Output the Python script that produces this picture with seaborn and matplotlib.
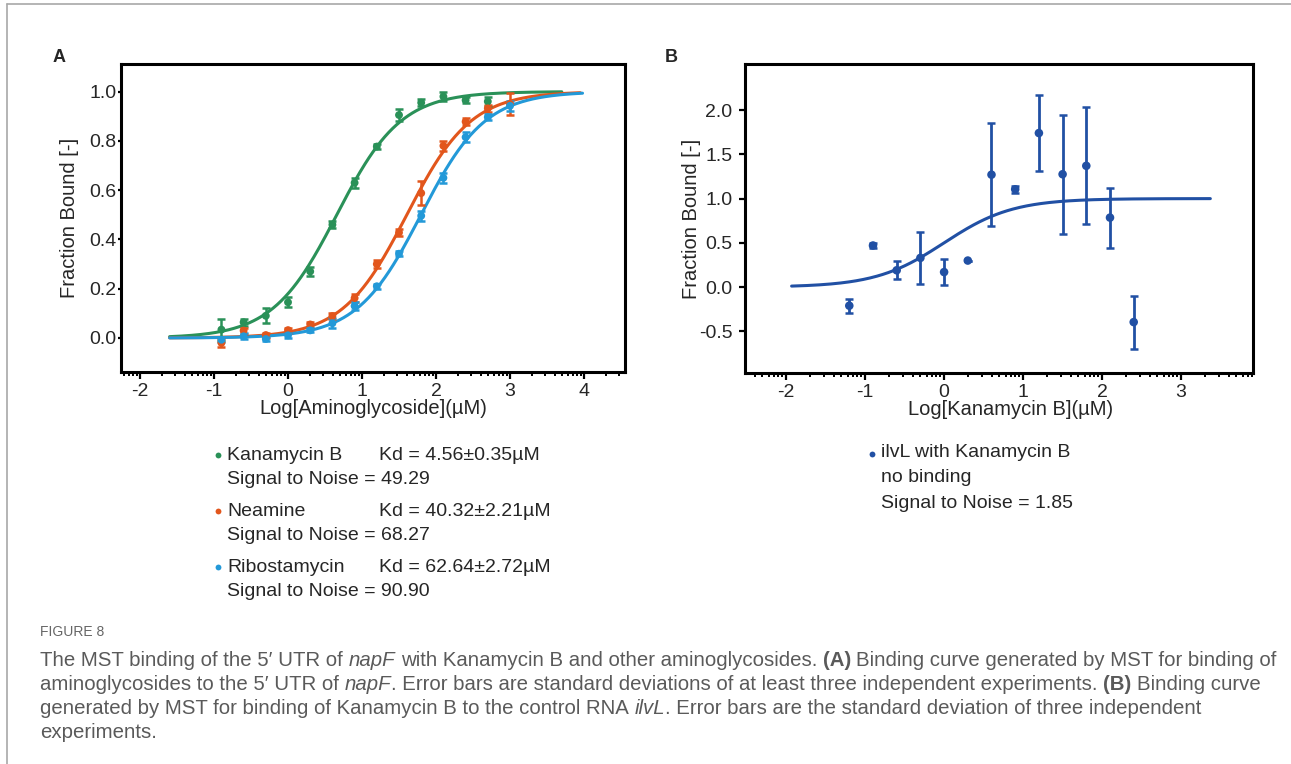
import numpy as np
import pandas as pd
import matplotlib
matplotlib.use("Agg")
import matplotlib.pyplot as plt
import seaborn as sns
from matplotlib.lines import Line2D
from matplotlib.ticker import FixedLocator

# ---- panel A: napF 5' UTR with aminoglycosides ----
log_conc_a = [-0.9, -0.6, -0.3, 0.0, 0.3, 0.6, 0.9, 1.2, 1.5, 1.8, 2.1, 2.4, 2.7, 3.0]
kan_y = [0.034, 0.064, 0.09, 0.145, 0.27, 0.46, 0.63, 0.777, 0.905, 0.955, 0.98, 0.965, 0.96]
kan_err = [0.045, 0.015, 0.03, 0.02, 0.02, 0.015, 0.02, 0.01, 0.025, 0.015, 0.02, 0.012, 0.02]
nea_y = [-0.02, 0.03, 0.012, 0.032, 0.055, 0.089, 0.162, 0.30, 0.428, 0.588, 0.78, 0.878, 0.932, 0.95]
nea_err = [0.015, 0.012, 0.01, 0.01, 0.01, 0.012, 0.015, 0.015, 0.015, 0.05, 0.02, 0.015, 0.015, 0.045]
rib_y = [-0.007, 0.007, -0.004, 0.011, 0.031, 0.06, 0.13, 0.21, 0.342, 0.496, 0.65, 0.815, 0.896, 0.942]
rib_err = [0.01, 0.012, 0.01, 0.01, 0.008, 0.02, 0.015, 0.01, 0.01, 0.02, 0.02, 0.02, 0.012, 0.02]

compounds = ["Kanamycin B", "Neamine", "Ribostamycin"]
kd_a = [4.56, 40.32, 62.64]           # µM, from the legend
kd_text = ["Kd = 4.56±0.35µM", "Kd = 40.32±2.21µM", "Kd = 62.64±2.72µM"]
snr_text = ["Signal to Noise = 49.29", "Signal to Noise = 68.27", "Signal to Noise = 90.90"]
fit_start_a = -1.6
fit_end_a = [3.70, 3.95, 3.98]
colors_a = ["#2a9158", "#e2561c", "#2399d8"]

# ---- panel B: control RNA ilvL ----
log_conc_b = [-1.2, -0.9, -0.6, -0.3, 0.0, 0.3, 0.6, 0.9, 1.2, 1.5, 1.8, 2.1, 2.4]
ilvl_y = [-0.21, 0.47, 0.19, 0.33, 0.17, 0.30, 1.27, 1.105, 1.74, 1.275, 1.37, 0.785, -0.395]
ilvl_err = [0.08, 0.03, 0.1, 0.29, 0.15, 0.0, 0.58, 0.04, 0.43, 0.67, 0.66, 0.34, 0.3]
kd_b = 1.0
fit_range_b = (-1.93, 3.37)
color_b = "#2150a4"
legend_b = ["ilvL with Kanamycin B", "no binding", "Signal to Noise = 1.85"]

sns.set_theme(style="ticks")
plt.rcParams['font.family'] = ['Liberation Sans', 'DejaVu Sans']

W, H = 1291, 764
fig = plt.figure(figsize=(W / 100, H / 100), dpi=100)


def fx(x):
    return x / W


def fy(y):
    return 1 - y / H


def style_axes(ax, xlim, ylim, xmajor, ypad, ylen):
    ax.set_xlim(*xlim)
    ax.set_ylim(*ylim)
    ax.xaxis.set_major_locator(FixedLocator(xmajor))
    minor = [n + np.log10(k) for n in range(-3, 5) for k in range(2, 10)]
    ax.xaxis.set_minor_locator(FixedLocator(minor))
    for s in ax.spines.values():
        s.set_linewidth(2.2)
        s.set_color("black")
    ax.tick_params(axis="x", which="major", direction="out", length=5, width=1.6,
                   labelsize=14, pad=3, color="black")
    ax.tick_params(axis="x", which="minor", direction="out", length=3, width=1.4, color="black")
    ax.tick_params(axis="y", which="major", direction="out", length=ylen, width=1.6,
                   labelsize=14, pad=ypad, color="black")
    ax.set_facecolor("white")


# ---------------- panel A ----------------
axA = fig.add_axes([fx(121), fy(372), 504 / W, 308 / H])
curves = []
for name, kd, end in zip(compounds, kd_a, fit_end_a):
    xs = np.linspace(fit_start_a, end, 300)
    c = 10 ** xs
    curves.append(pd.DataFrame({"x": xs, "y": c / (c + kd), "compound": name}))
curves = pd.concat(curves)
sns.lineplot(data=curves, x="x", y="y", hue="compound", hue_order=compounds,
             palette=colors_a, linewidth=2.2, legend=False, ax=axA)

series = [(kan_y, kan_err), (nea_y, nea_err), (rib_y, rib_err)]
for name, (yv, ev), col in zip(compounds, series, colors_a):
    xv = log_conc_a[:len(yv)]
    axA.errorbar(xv, yv, yerr=ev, fmt="none", ecolor=col, elinewidth=1.8,
                 capsize=3, capthick=1.8)
    sns.scatterplot(x=xv, y=yv, color=col, s=32, edgecolor="none", ax=axA, zorder=3)

style_axes(axA, (-2.257, 4.554), (-0.138, 1.112), [-2, -1, 0, 1, 2, 3, 4], 1, 2)
axA.set_yticks([0.0, 0.2, 0.4, 0.6, 0.8, 1.0])
axA.set_yticklabels(["0.0", "0.2", "0.4", "0.6", "0.8", "1.0"])
axA.set_xticklabels(["-2", "-1", "0", "1", "2", "3", "4"])
axA.set_xlabel("Log[Aminoglycoside](µM)", fontsize=14.5)
axA.set_ylabel("Fraction Bound [-]", fontsize=14.5)
axA.xaxis.set_label_coords(0.5, (372 - 399) / 308)
axA.yaxis.set_label_coords((79 - 121) / 504, 0.5)

# ---------------- panel B ----------------
axB = fig.add_axes([fx(745), fy(373), 508 / W, 309 / H])
xs = np.linspace(fit_range_b[0], fit_range_b[1], 300)
c = 10 ** xs
sns.lineplot(x=xs, y=c / (c + kd_b), color=color_b, linewidth=2.2, ax=axB)
axB.errorbar(log_conc_b, ilvl_y, yerr=ilvl_err, fmt="none", ecolor=color_b,
             elinewidth=2.0, capsize=3, capthick=1.8)
sns.scatterplot(x=log_conc_b, y=ilvl_y, color=color_b, s=38, edgecolor="none", ax=axB, zorder=3)
style_axes(axB, (-2.52, 3.91), (-0.97, 2.52), [-2, -1, 0, 1, 2, 3], 5, 4)
axB.set_yticks([-0.5, 0.0, 0.5, 1.0, 1.5, 2.0])
axB.set_yticklabels(["-0.5", "0.0", "0.5", "1.0", "1.5", "2.0"])
axB.set_xticklabels(["-2", "-1", "0", "1", "2", "3"])
axB.set_xlabel("Log[Kanamycin B](µM)", fontsize=14.5)
axB.set_ylabel("Fraction Bound [-]", fontsize=14.5)
axB.xaxis.set_label_coords((1011 - 745) / 508, (373 - 400) / 309)
axB.yaxis.set_label_coords((701 - 745) / 508, 0.5)

# panel letters
fig.text(fx(59), fy(57), "A", fontsize=13, weight="bold", ha="center", va="center")
fig.text(fx(671), fy(57), "B", fontsize=13, weight="bold", ha="center", va="center")


def bullet(x, y, col):
    fig.add_artist(Line2D([fx(x)], [fy(y)], marker="o", markersize=4.2,
                          color=col, markeredgewidth=0, linestyle="none"))


# ---------------- text legends ----------------
rows_a = [455, 511, 567]
for i, name in enumerate(compounds):
    y0 = rows_a[i]
    bullet(218, y0, colors_a[i])
    fig.text(fx(227), fy(y0), name, fontsize=14, ha="left", va="center")
    fig.text(fx(379), fy(y0), kd_text[i], fontsize=14, ha="left", va="center")
    fig.text(fx(227), fy(y0 + 25), snr_text[i], fontsize=14, ha="left", va="center")

bullet(872, 454, color_b)
for y0, line in zip([453, 477, 503], legend_b):
    fig.text(fx(881), fy(y0), line, fontsize=14, ha="left", va="center")

# ---------------- caption ----------------
cap_font = ["Liberation Sans", "DejaVu Sans"]
cap_color = "#5a5a5a"
renderer = fig.canvas.get_renderer()


def text_w(s, size, **kw):
    t = fig.text(0, 0, s, fontsize=size, family=cap_font, **kw)
    w = t.get_window_extent(renderer).width
    t.remove()
    return w


def rich_line(x0, y, parts, size):
    sp = text_w("a a", size) - text_w("aa", size)
    x = x0
    made = []
    for txt, kw in parts:
        lead = len(txt) - len(txt.lstrip(" "))
        trail = len(txt) - len(txt.rstrip(" "))
        x += lead * sp
        core = txt.strip(" ")
        t = fig.text(fx(x), fy(y), core, fontsize=size, family=cap_font,
                     color=cap_color, va="center", ha="left", **kw)
        made.append(t)
        x += t.get_window_extent(renderer).width + trail * sp
    return x, made


plain = {}
ital = {"style": "italic"}
bold = {"weight": "bold"}
cap_lines = [
    [("The MST binding of the 5′ UTR of ", plain), ("napF", ital),
     (" with Kanamycin B and other aminoglycosides. ", plain), ("(A)", bold),
     (" Binding curve generated by MST for binding of", plain)],
    [("aminoglycosides to the 5′ UTR of ", plain), ("napF", ital),
     (". Error bars are standard deviations of at least three independent experiments. ", plain),
     ("(B)", bold), (" Binding curve", plain)],
    [("generated by MST for binding of Kanamycin B to the control RNA ", plain), ("ilvL", ital),
     (". Error bars are the standard deviation of three independent", plain)],
    [("experiments.", plain)],
]
# fit the first caption line to the width it has in the reference
trial = 13.5
end_x, tmp = rich_line(40, 660, cap_lines[0], trial)
for t in tmp:
    t.remove()
cap_size = trial * (1272 - 40) / (end_x - 40)

fig.text(fx(40), fy(632), "FIGURE 8", fontsize=10, family=cap_font, color="#666666",
         va="center", ha="left")
for y0, parts in zip([660, 684, 708, 732], cap_lines):
    rich_line(40, y0, parts, cap_size)

# outer frame of the figure page
fig.add_artist(Line2D([fx(7), 1], [fy(4), fy(4)], color="#a8a8a8", lw=1.2))
fig.add_artist(Line2D([fx(7), fx(7)], [fy(4), 0], color="#a8a8a8", lw=1.2))

fig.savefig("out.png", dpi=100, facecolor="white")
